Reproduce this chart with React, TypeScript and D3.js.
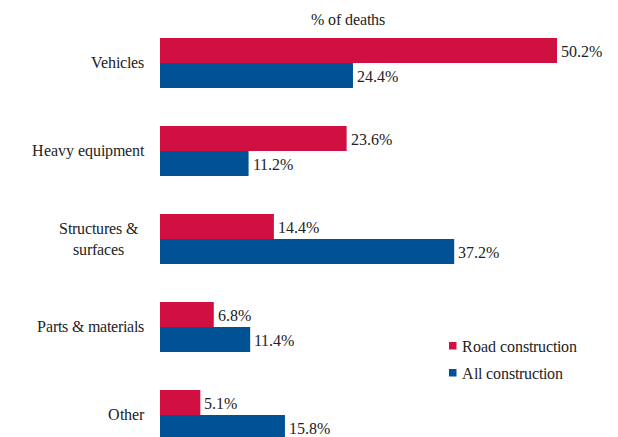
import React from "react";
import * as d3 from "d3";

const categories: string[][] = [
  ["Vehicles"],
  ["Heavy equipment"],
  ["Structures &", "surfaces"],
  ["Parts & materials"],
  ["Other"],
];
const categoryKeys = categories.map((c) => c.join(" "));
const seriesNames = ["Road construction", "All construction"];
const roadValues = [50.2, 23.6, 14.4, 6.8, 5.1];
const allValues = [24.4, 11.2, 37.2, 11.4, 15.8];
const seriesColors = ["#D01040", "#005295"];
const title = "% of deaths";

export default function App() {
  const W = 618;
  const H = 437;
  const x = d3.scaleLinear().domain([0, 50.2]).range([160, 557]);
  const y = d3
    .scaleBand<string>()
    .domain(categoryKeys)
    .range([38, 440])
    .paddingInner(38 / 88)
    .paddingOuter(0);
  const inner = d3
    .scaleBand<string>()
    .domain(seriesNames)
    .range([0, y.bandwidth()])
    .padding(0);
  const series = [roadValues, allValues];
  const ts = { fontFamily: "ChartSerif, 'Liberation Serif', Tinos, serif", fontSize: "16px" };

  return (
    <svg
      width={W}
      height={H}
      style={{ position: "absolute", left: 0, top: 0, background: "#fff" }}
    >
      <style>{`@font-face { font-family: "ChartSerif"; src: local("Liberation Serif"), local("LiberationSerif"), local("Liberation Serif Regular"), local("LiberationSerif-Regular"); }`}</style>
      <text x={348} y={25} textAnchor="middle" style={ts} fill="#222">
        {title}
      </text>
      {categoryKeys.map((key, i) => {
        const y0 = y(key)!;
        const cy = y0 + y.bandwidth() / 2;
        const lines = categories[i];
        return (
          <g key={key}>
            {lines.length === 1 ? (
              <text x={144} y={cy + 5} textAnchor="end" style={ts} fill="#222">
                {lines[0]}
              </text>
            ) : (
              lines.map((ln, j) => (
                <text
                  key={j}
                  x={98}
                  y={cy - 5 + j * 21}
                  textAnchor="middle"
                  style={ts}
                  fill="#222"
                >
                  {ln}
                </text>
              ))
            )}
            {series.map((vals, s) => {
              const by = y0 + inner(seriesNames[s])!;
              const bh = inner.bandwidth();
              return (
                <g key={s}>
                  <rect
                    x={x(0)}
                    y={by}
                    width={x(vals[i]) - x(0)}
                    height={bh}
                    fill={seriesColors[s]}
                  />
                  <text
                    x={x(vals[i]) + 4}
                    y={by + bh / 2 + 6}
                    style={ts}
                    fill="#222"
                  >
                    {vals[i].toFixed(1)}%
                  </text>
                </g>
              );
            })}
          </g>
        );
      })}
      {seriesNames.map((name, s) => (
        <g key={name} transform={`translate(449, ${342 + s * 27})`}>
          <rect x={0} y={0} width={7.5} height={7.5} fill={seriesColors[s]} />
          <text x={12.5} y={9.5} style={ts} fill="#222">
            {name}
          </text>
        </g>
      ))}
    </svg>
  );
}
